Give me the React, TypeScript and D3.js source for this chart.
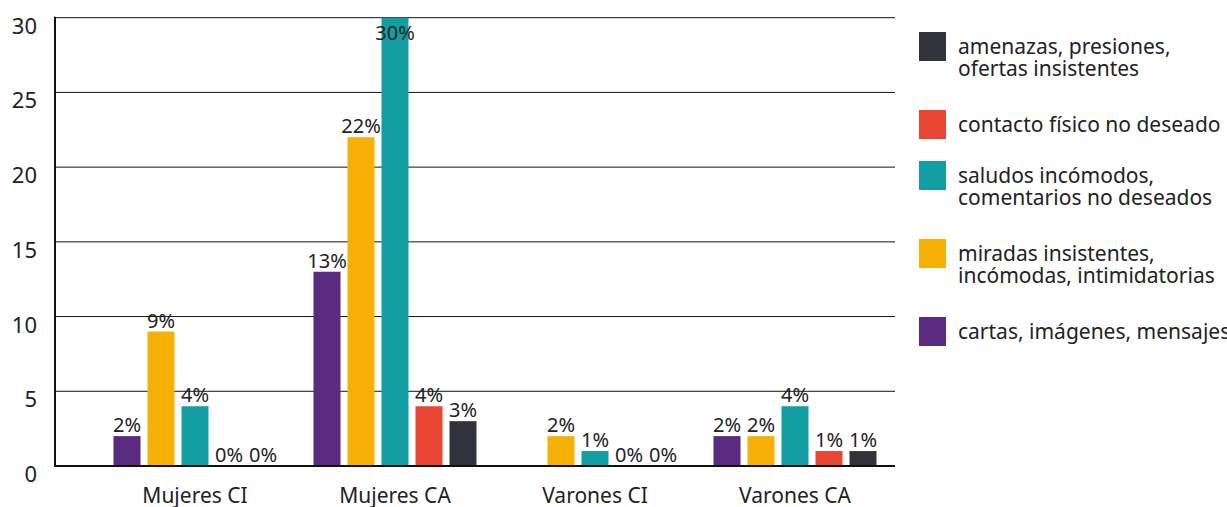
import * as d3 from 'd3';

// categories on the x axis
const categories = ['Mujeres CI', 'Mujeres CA', 'Varones CI', 'Varones CA'];

// series, in bar order (left to right inside a group)
const seriesKeys = ['cartas', 'miradas', 'saludos', 'contacto', 'amenazas'];
const seriesColors = ['#5B2A81', '#F6B006', '#139EA4', '#E84532', '#32323C'];

// values in %, null = no bar / no label
const cartas = [2, 13, null, 2];
const miradas = [9, 22, 2, 2];
const saludos = [4, 30, 1, 4];
const contacto = [0, 4, 0, 1];
const amenazas = [0, 3, 0, 1];

const yTicks = [0, 5, 10, 15, 20, 25, 30];

// legend, top to bottom
const legendKeys = ['amenazas', 'contacto', 'saludos', 'miradas', 'cartas'];
const legendLabels = [
  ['amenazas, presiones,', 'ofertas insistentes'],
  ['contacto físico no deseado'],
  ['saludos incómodos,', 'comentarios no deseados'],
  ['miradas insistentes,', 'incómodas, intimidatorias'],
  ['cartas, imágenes, mensajes'],
];

const W = 1227;
const H = 507;
const FONT = '"Noto Sans", sans-serif';

export default function App() {
  const valuesByKey: Record<string, (number | null)[]> = { cartas, miradas, saludos, contacto, amenazas };
  const color = d3.scaleOrdinal<string, string>().domain(seriesKeys).range(seriesColors);

  const plotLeft = 55;
  const plotRight = 895;

  const y = d3.scaleLinear().domain([0, 30]).range([466, 17.7]);
  const x0 = d3.scaleBand().domain(categories).range([95, 895]).padding(0);
  const x1 = d3.scaleBand().domain(seriesKeys).range([18.5, 181.5]).paddingInner(0.206).paddingOuter(0);

  const legendTops = [32, 110, 161, 239, 317];

  return (
    <div style={{ position: 'absolute', left: 0, top: 0 }}>
      <svg width={W} height={H} style={{ display: 'block', background: '#fff' }} fontFamily={FONT}>
        {/* gridlines */}
        {yTicks.filter(t => t > 0).map(t => (
          <line key={t} x1={plotLeft} x2={plotRight} y1={y(t)} y2={y(t)} stroke="#111" strokeWidth={1} />
        ))}
        {/* y tick labels */}
        {yTicks.map(t => (
          <text key={'l' + t} x={37} y={y(t) + 16} textAnchor="end" fontSize={22} fill="#222">{t}</text>
        ))}

        {/* bars */}
        {categories.map((c, ci) => (
          <g key={c} transform={`translate(${x0(c)},0)`}>
            {seriesKeys.map(k => {
              const v = valuesByKey[k][ci];
              if (v === null) return null;
              const bx = x1(k)!;
              const top = y(v);
              return (
                <g key={k}>
                  <rect x={bx} y={top} width={x1.bandwidth()} height={y(0) - top} fill={color(k)} />
                  <text x={bx + x1.bandwidth() / 2} y={Math.max(top - 4, 40)} textAnchor="middle" fontSize={20} fill="#222">{v}%</text>
                </g>
              );
            })}
          </g>
        ))}

        {/* axes */}
        <line x1={plotLeft} x2={plotLeft} y1={y(30) - 1} y2={y(0) + 1} stroke="#111" strokeWidth={2} />
        <line x1={plotLeft} x2={plotRight} y1={y(0)} y2={y(0)} stroke="#111" strokeWidth={2} />

        {/* category labels */}
        {categories.map(c => (
          <text key={c} x={x0(c)! + x0.bandwidth() / 2} y={503} textAnchor="middle" fontSize={21} fill="#222">{c}</text>
        ))}

        {/* legend */}
        {legendKeys.map((k, i) => (
          <g key={k} transform={`translate(919,${legendTops[i]})`}>
            <rect x={0} y={0} width={27} height={29} fill={color(k)} />
            {legendLabels[i].map((line, li) => (
              <text key={li} x={39} y={22 + li * 22} fontSize={21} fill="#222">{line}</text>
            ))}
          </g>
        ))}
      </svg>
    </div>
  );
}
